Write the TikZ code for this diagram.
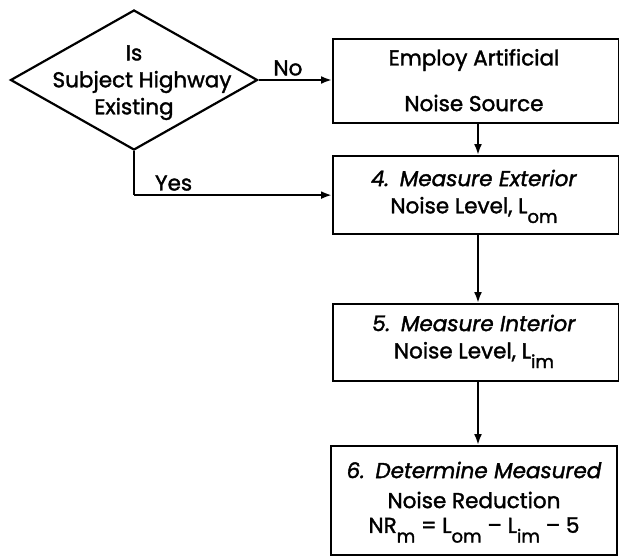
\documentclass[tikz,border=0pt]{standalone}
\usepackage{fontspec}
\setmainfont{Poppins}[FakeBold=1.6]
\usetikzlibrary{shapes.geometric,arrows.meta,positioning}
\newcommand{\sbs}[1]{\raisebox{-0.45em}{\fontsize{18}{18}\selectfont #1}}
\begin{document}
\begin{tikzpicture}[x=1pt,y=-1pt,
  line width=2.2pt,
  every node/.style={font=\fontsize{21.5}{24}\selectfont},
  boxstyle/.style={draw, rectangle, minimum width=286pt, align=center, inner sep=0pt, anchor=north west},
  decstyle/.style={draw, diamond, aspect=1.76, minimum width=247pt, minimum height=140pt, inner sep=0pt, align=center},
  arr/.style={-{Latex[length=11pt,width=8pt]}},
  lbl/.style={font=\fontsize{21.5}{24}\selectfont}
]
\useasboundingbox (0,0) rectangle (619,558);
\node[decstyle] (d) at (134,80) {};
\node at (134,53) {Is};
\node at (142,82) {Subject Highway};
\node at (134,109) {Existing};
\node[boxstyle, minimum height=84pt] (b1) at (332,38) {};
\node at (474,60) {Employ Artificial};
\node at (474,103) {Noise Source};
\node[boxstyle, minimum height=78pt] (b2) at (332,155) {};
\node at (474,178) {\textit{4.\enspace Measure Exterior}};
\node at (474,210) {Noise Level, L\sbs{om}};
\node[boxstyle, minimum height=77pt] (b3) at (332,303) {};
\node at (474,323) {\textit{5.\enspace Measure Interior}};
\node at (474,355) {Noise Level, L\sbs{im}};
\node[boxstyle, minimum height=109pt] (b4) at (330,445) {};
\node at (474,470) {\textit{6.\enspace Determine Measured}};
\node at (474,500) {Noise Reduction};
\node at (474,530) {NR\sbs{m} = L\sbs{om} -- L\sbs{im} -- 5};
\coordinate (c) at (d.south |- b2.west);
\draw[arr] (d.east) -- node[above, lbl, pos=0.4] {No} (d.east -| b1.west);
\draw (d.south) -- (c);
\draw[arr] (c) -- node[above, lbl, pos=0.2] {Yes} (b2.west);
\draw[arr] (b1.south -| 478,0) -- (b2.north -| 478,0);
\draw[arr] (b2.south -| 478,0) -- (b3.north -| 478,0);
\draw[arr] (b3.south -| 478,0) -- (b4.north -| 478,0);
\end{tikzpicture}
\end{document}
